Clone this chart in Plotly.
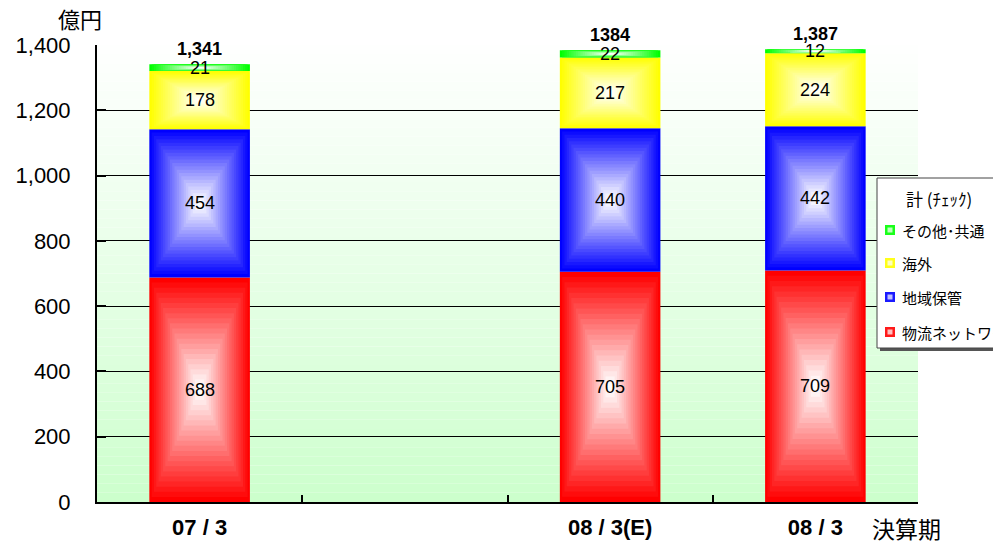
import plotly.graph_objects as go

# ---------------- data ----------------
periods = ["07/3", " ", "08/3(E)", "08/3"]          # axis slots (2nd slot empty)
period_ticktext = ["07 / 3", "", "08 / 3(E)", "08 / 3"]
bar_periods = ["07/3", "08/3(E)", "08/3"]
series_names = ["物流ネットワーク", "地域保管", "海外", "その他･共通"]
butsuryu = [688, 705, 709]
chiiki = [454, 440, 442]
kaigai = [178, 217, 224]
sonota = [21, 22, 12]
total_labels = ["1,341", "1384", "1,387"]
y_ticks = [0, 200, 400, 600, 800, 1000, 1200, 1400]

series_values = [butsuryu, chiiki, kaigai, sonota]
series_colors = [(255, 0, 0), (0, 0, 255), (255, 255, 0), (0, 255, 0)]

BAR_W = 0.49
N_LAYERS = 22
FONT = "Liberation Sans, Arial, sans-serif"
JFONT = "Noto Sans CJK JP, sans-serif"

# page is rendered with the default 8px body margin
OFF = 8
PAGE_W, PAGE_H = 1001, 544
W, H = PAGE_W - OFF, PAGE_H - OFF
PX0, PX1, PYT, PYB = 97, 918, 45, 502   # plot area in page pixels


def lerp_col(c, f):
    r, g, b = [int(round(ch + (255 - ch) * f)) for ch in c]
    return f"rgb({r},{g},{b})"


def px(x):
    return (x - PX0) / (PX1 - PX0)


def py(y):
    return (PYB - y) / (PYB - PYT)


fig = go.Figure()

# stacked bars with a "pillow" gradient (nested, progressively lighter bars)
bases = [0, 0, 0]
annotations = []
for vals, col, name in zip(series_values, series_colors, series_names):
    for k in range(N_LAYERS):
        f = k / N_LAYERS
        fig.add_trace(go.Bar(
            x=bar_periods,
            y=[v * (1 - f) for v in vals],
            base=[b + v * f / 2 for b, v in zip(bases, vals)],
            width=[BAR_W * (1 - f)] * len(vals),
            marker=dict(color=lerp_col(col, min(1.0, f * 1.05)), line=dict(width=0)),
            name=name, showlegend=False, hoverinfo="skip" if k else "y+name",
        ))
    for p, b, v in zip(bar_periods, bases, vals):
        annotations.append(dict(x=p, y=b + v / 2, text=str(v), showarrow=False,
                                xanchor="center", yanchor="middle",
                                font=dict(family=FONT, size=18, color="black")))
    bases = [b + v for b, v in zip(bases, vals)]

for p, t, lab in zip(bar_periods, bases, total_labels):
    annotations.append(dict(x=p, y=t, text=f"<b>{lab}</b>", showarrow=False, yshift=15,
                            xanchor="center", yanchor="middle",
                            font=dict(family=FONT, size=18, color="black")))

# plot-area background gradient (light green bottom -> white top)
shapes = []
NB = 50
for i in range(NB):
    f = i / NB
    c = lerp_col((204, 255, 204), f ** 0.9)
    shapes.append(dict(type="rect", xref="paper", yref="paper", x0=0, x1=1,
                       y0=i / NB, y1=(i + 1) / NB, fillcolor=c, line=dict(width=0),
                       layer="below"))

# manual legend (clipped by the page edge, like the reference)
shapes.append(dict(type="rect", xref="paper", yref="paper", x0=px(880), x1=px(1012),
                   y0=py(351), y1=py(181), fillcolor="#555555", line=dict(width=0), layer="above"))
shapes.append(dict(type="rect", xref="paper", yref="paper", x0=px(877), x1=px(1010),
                   y0=py(348), y1=py(178), fillcolor="white",
                   line=dict(color="#444444", width=1), layer="above"))
annotations.append(dict(xref="paper", yref="paper", x=px(904), y=py(198), xanchor="left",
                        yanchor="middle", text="計 (ﾁｪｯｸ)", showarrow=False,
                        font=dict(family=JFONT, size=17, color="black")))
legend_y = [332, 297, 263, 230]  # bottom-to-top matches series order
for name, col, ly in zip(series_names, series_colors, legend_y):
    shapes.append(dict(type="rect", xref="paper", yref="paper", x0=px(885), x1=px(895),
                       y0=py(ly + 5), y1=py(ly - 5), fillcolor=lerp_col(col, 0.1),
                       line=dict(width=0), layer="above"))
    shapes.append(dict(type="rect", xref="paper", yref="paper", x0=px(887.5), x1=px(892.5),
                       y0=py(ly + 2.5), y1=py(ly - 2.5), fillcolor=lerp_col(col, 0.75),
                       line=dict(width=0), layer="above"))
    annotations.append(dict(xref="paper", yref="paper", x=px(900), y=py(ly), xanchor="left",
                            yanchor="middle", text=name, showarrow=False,
                            font=dict(family=JFONT, size=15, color="black")))

# axis titles
annotations.append(dict(xref="paper", yref="paper", x=px(80), y=py(18), text="億円",
                        xanchor="center", yanchor="middle",
                        showarrow=False, font=dict(family=JFONT, size=22, color="black")))
annotations.append(dict(xref="paper", yref="paper", x=px(906), y=py(528), text="決算期",
                        xanchor="center", yanchor="middle",
                        showarrow=False, font=dict(family=JFONT, size=23, color="black")))

fig.update_layout(
    width=W, height=H,
    margin=dict(l=PX0 - OFF, r=PAGE_W - PX1, t=PYT - OFF, b=PAGE_H - PYB),
    paper_bgcolor="white", plot_bgcolor="white",
    barmode="overlay",
    showlegend=False,
    shapes=shapes,
    annotations=annotations,
    xaxis=dict(type="category", categoryorder="array", categoryarray=periods,
               tickvals=periods, ticktext=[f"<b>{t}</b>" for t in period_ticktext],
               range=[-0.5, 3.5], tickson="boundaries", ticks="inside", ticklen=7,
               tickwidth=2, tickcolor="black", showline=True, linewidth=2, linecolor="black",
               showgrid=False, ticklabelstandoff=5, automargin=False,
               tickfont=dict(family=FONT, size=22, color="black")),
    yaxis=dict(range=[0, 1400], tickvals=y_ticks, tickformat=",", ticks="inside",
               ticklen=9, tickwidth=2, tickcolor="black", showline=True, linewidth=2,
               linecolor="black", showgrid=True, gridcolor="black", gridwidth=1,
               zeroline=False, ticklabelstandoff=20, automargin=False,
               tickfont=dict(family=FONT, size=22, color="black")),
)

fig.write_html("out.html")
